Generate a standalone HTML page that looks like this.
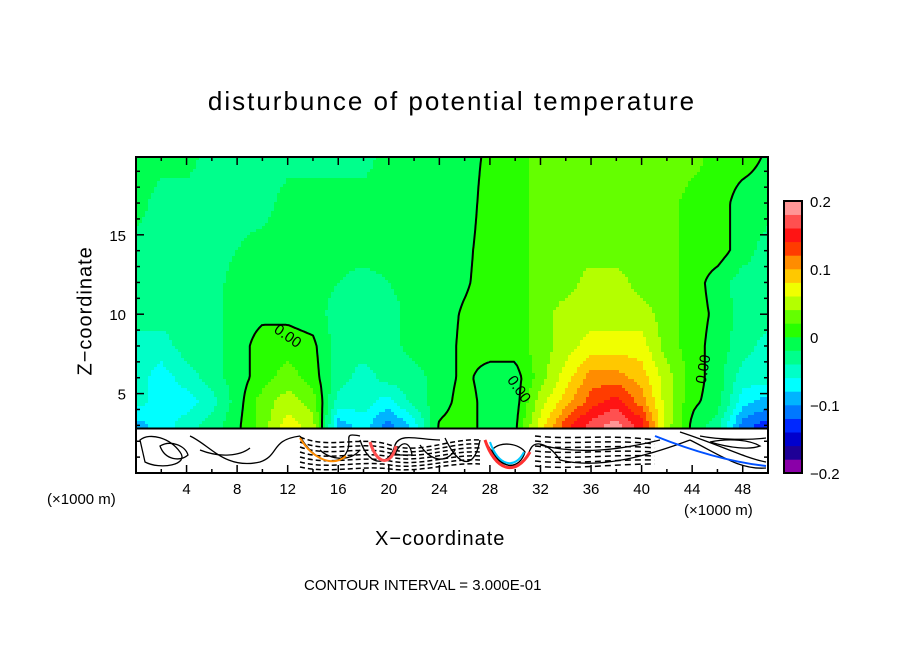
<!DOCTYPE html>
<html><head><meta charset="utf-8">
<style>
body{margin:0;background:#fff;width:904px;height:654px;overflow:hidden;position:relative;font-family:"Liberation Sans",sans-serif;}
.t{position:absolute;color:#000;white-space:nowrap;}
</style></head>
<body>
<div class="t" style="left:0;width:904px;text-align:center;top:86px;font-size:26px;letter-spacing:2px;">disturbunce of potential temperature</div>
<svg id="svg" width="904" height="654" style="position:absolute;left:0;top:0">
<g id="field" shape-rendering="crispEdges"></g>
<g id="ground"></g>
<g id="contours"></g>
<g id="axes"></g>
<g id="cbar"></g>
</svg>
<div class="t" style="left:47px;top:491px;font-size:15px;">(×1000 m)</div>
<div class="t" style="left:684px;top:502px;font-size:15px;">(×1000 m)</div>
<div class="t" style="left:375px;top:528px;font-size:20px;letter-spacing:1px;">X−coordinate</div>
<div class="t" style="left:24px;top:302px;font-size:20px;letter-spacing:1px;transform:rotate(-90deg);width:124px;text-align:center;">Z−coordinate</div>
<div class="t" style="left:304px;top:577px;font-size:15px;">CONTOUR INTERVAL = 3.000E-01</div>
<script>
const xCoords=[0,2,4,6,8,10,12,14,16,18,20,22,24,26,28,30,32,34,36,38,40,42,44,46,48,50];
const zCoords=[20,17,14,12,10,8,6,4.5,3];
const fieldRow20=[-1,-1,-1,-3,-3,-3,-3,-3,-3,-3,-1,-1,-1,-1,0.5,1,3,3,3,3,3,3,3,1,1,-0.3];
const fieldRow17=[-1,-3,-3,-3,-3,-3,-1,-1,-1,-1,-1,-1,-1,-1,1,1,3,3,3,3,3,3,1,1,-1,-1];
const fieldRow14=[-3,-3,-3,-3,-2,-1,-1,-1,-1,-1,-1,-1,-1,-0.5,1,1,3,3,3,3,3,3,1,1,-1,-3];
const fieldRow12=[-3,-3,-3,-3,-1,-1,-1,-1,-2,-3,-2,-1,-1,-0.3,1,1,3,3,5,5,3,3,1,-1,-3,-3];
const fieldRow10=[-3,-3,-3,-3,-1,-0.5,-0.5,-1,-3,-3,-3,-1,-1,0.3,1,1,3,5,5,5,5,3,1,-0.5,-3,-3];
const fieldRow8=[-5,-5,-3,-3,-1,1,1,0.5,-3,-3,-3,-1,-1,0.5,1,1,3,5,7,7,7,3,1,-1,-3,-5];
const fieldRow6=[-5,-7,-5,-3,-1,1,3,1,-3,-5,-3,-3,-1,0.5,-1,-1,3,7,11,11,9,5,1,-1,-5,-5];
const fieldRow45=[-5,-7,-7,-5,-1,3,5,3,-5,-5,-7,-3,-1,1,-1,-1,5,9,13,15,11,5,0.5,-1,-7,-9];
const fieldRow3=[-9,-7,-5,-3,-0.5,3,7,5,-9,-7,-11,-7,0.3,1,-1,-0.5,7,13,17,19,15,5,-0.5,-3,-11,-13];
const rows=[fieldRow20,fieldRow17,fieldRow14,fieldRow12,fieldRow10,fieldRow8,fieldRow6,fieldRow45,fieldRow3];
const levelColors=["#8a00a8","#1e0096","#0000cd","#0028ff","#0078ff","#00b4ff","#00ffff","#00ffc8","#00ff8c","#00ff50","#28ff00","#64ff00","#b4ff00","#f0ff00","#ffc800","#ff8c00","#ff3c00","#ff1414","#ff5050","#ff9696"];
const cbarLabels=["0.2","0.1","0","−0.1","−0.2"];
const cbarValues=[0.2,0.1,0,-0.1,-0.2];
const xTickLabels=["4","8","12","16","20","24","28","32","36","40","44","48"];
const xTickValues=[4,8,12,16,20,24,28,32,36,40,44,48];
const yTickLabels=["5","10","15"];
const yTickValues=[5,10,15];

const L=136,R=768,T=157,B=473,XMAX=50,ZMAX=19.9,GROUND=2.8;
const sx=x=>L+(x/XMAX)*(R-L);
const sz=z=>B-(z/ZMAX)*(B-T);
const NS="http://www.w3.org/2000/svg";
function mk(tag,attrs,parent){const e=document.createElementNS(NS,tag);for(const k in attrs)e.setAttribute(k,attrs[k]);parent.appendChild(e);return e;}
function val(x,z){
  let i=Math.min(xCoords.length-2,Math.max(0,Math.floor(x/2)));
  let fx=Math.max(0,Math.min(1,(x-xCoords[i])/(xCoords[i+1]-xCoords[i])));
  z=Math.max(3,Math.min(20,z));
  let j=0;while(j<zCoords.length-2&&z<zCoords[j+1])j++;
  let fz=(zCoords[j]-z)/(zCoords[j]-zCoords[j+1]);
  const a=rows[j][i]*(1-fx)+rows[j][i+1]*fx;
  const b=rows[j+1][i]*(1-fx)+rows[j+1][i+1]*fx;
  return (a*(1-fz)+b*fz)/100;
}
function colorFor(v){let k=Math.floor((v+0.2)/0.02+1e-9);k=Math.max(0,Math.min(19,k));return levelColors[k];}

const field=document.getElementById('field');
const step=3;
const gy=sz(GROUND);
for(let py=T;py<gy;py+=step){
  for(let px=L;px<R;px+=step){
    const x=(px+step/2-L)/(R-L)*XMAX, z=(B-(py+step/2))/(B-T)*ZMAX;
    const r=mk('rect',{x:px,y:py,width:step,height:Math.min(step,gy-py),fill:colorFor(val(x,z))},field);
    
    
  }
}
// ground region (decorative dense contours)
const g=document.getElementById('ground');
mk('rect',{x:L,y:gy,width:R-L,height:B-gy,fill:'#fff'},g);
const gp=["M140 440 C150 432,170 438,180 452 C190 465,160 470,145 462Z",
"M190 436 C210 445,225 470,260 462 C280 455,270 440,300 436",
"M160 446 C170 440,185 445,188 455 C180 462,165 460,160 446Z",
"M300 436 C310 455,330 470,345 455 C355 440,340 432,360 436",
"M360 440 C370 470,390 465,395 445 C400 432,420 440,440 440",
"M445 438 C460 470,475 468,480 440",
"M485 440 C500 470,520 475,530 450 C535 438,550 445,560 460 C600 470,650 455,690 440",
"M690 440 C720 455,740 470,766 468","M680 432 C720 445,745 458,766 462",
"M540 445 C580 455,620 450,660 440","M700 436 C720 440,750 440,766 438",
"M710 442 C730 448,750 450,760 446 C750 440,730 438,710 442Z",
"M200 450 C220 458,240 456,250 448","M320 450 C330 460,350 462,360 450",
"M492 450 C500 470,520 470,525 452 C520 444,500 440,492 450Z",
"M420 445 C430 460,445 465,455 450","M395 455 C400 440,410 440,412 455Z"];
gp.forEach(d=>{mk('path',{d:d,fill:'none',stroke:'#000','stroke-width':1.3},g);});
for(let k=0;k<7;k++){
  mk('path',{d:`M300 ${437+k*5} C330 ${450+k*4},360 ${435+k*5},390 ${445+k*4} C420 ${455+k*3},450 ${438+k*4},480 ${440+k*4}`,fill:'none',stroke:'#000','stroke-width':1.5,'stroke-dasharray':'5 3'},g);
  mk('path',{d:`M535 ${436+k*5} C570 ${440+k*5},610 ${434+k*5},655 ${440+k*4}`,fill:'none',stroke:'#000','stroke-width':1.5,'stroke-dasharray':'6 4'},g);
}
mk('path',{d:"M485 440 C495 470,515 478,530 452",fill:'none',stroke:'#ff3030','stroke-width':3},g);
mk('path',{d:"M490 442 C498 466,515 470,524 452",fill:'none',stroke:'#00c8ff','stroke-width':2},g);
mk('path',{d:"M370 442 C378 468,392 464,396 446",fill:'none',stroke:'#ff5050','stroke-width':3},g);
mk('path',{d:"M300 438 C312 458,332 468,346 456",fill:'none',stroke:'#ff8c00','stroke-width':2},g);
mk('path',{d:"M655 436 C690 450,730 462,766 466",fill:'none',stroke:'#0050ff','stroke-width':2},g);
mk('line',{x1:L,y1:gy,x2:R,y2:gy,stroke:'#000','stroke-width':2},g);

// zero contour by marching squares
const cg=document.getElementById('contours');
let d="";const cs=3;
for(let py=T;py+cs<=gy;py+=cs){
  for(let px=L;px+cs<=R;px+=cs){
    const X=p=>(p-L)/(R-L)*XMAX, Z=p=>(B-p)/(B-T)*ZMAX;
    const v0=val(X(px),Z(py)),v1=val(X(px+cs),Z(py)),v2=val(X(px+cs),Z(py+cs)),v3=val(X(px),Z(py+cs));
    const pts=[];
    const edge=(a,b,xa,ya,xb,yb)=>{if((a<0)!==(b<0)){const t=a/(a-b);pts.push([xa+(xb-xa)*t,ya+(yb-ya)*t]);}};
    edge(v0,v1,px,py,px+cs,py);edge(v1,v2,px+cs,py,px+cs,py+cs);
    edge(v2,v3,px+cs,py+cs,px,py+cs);edge(v3,v0,px,py+cs,px,py);
    for(let k=0;k+1<pts.length;k+=2)d+=`M${pts[k][0].toFixed(1)} ${pts[k][1].toFixed(1)}L${pts[k+1][0].toFixed(1)} ${pts[k+1][1].toFixed(1)}`;
  }
}
mk('path',{d:d,fill:'none',stroke:'#000','stroke-width':2,'stroke-linecap':'round'},cg);
[[285,340,35],[515,392,55],[708,370,-80]].forEach(p=>{
  const t=mk('text',{x:p[0],y:p[1],'font-size':15,'font-family':'Liberation Sans',transform:`rotate(${p[2]} ${p[0]} ${p[1]})`,'text-anchor':'middle'},cg);
  t.textContent="0.00";
});

// axes
const ax=document.getElementById('axes');
mk('rect',{x:L,y:T,width:R-L,height:B-T,fill:'none',stroke:'#000','stroke-width':2},ax);
for(let x=2;x<50;x+=2){const len=x%4===0?8:4;
  mk('line',{x1:sx(x),y1:B,x2:sx(x),y2:B-len,stroke:'#000','stroke-width':1.5},ax);
  mk('line',{x1:sx(x),y1:T,x2:sx(x),y2:T+len,stroke:'#000','stroke-width':1.5},ax);}
for(let z=1;z<20;z++){const len=z%5===0?8:4;
  mk('line',{x1:L,y1:sz(z),x2:L+len,y2:sz(z),stroke:'#000','stroke-width':1.5},ax);
  mk('line',{x1:R,y1:sz(z),x2:R-len,y2:sz(z),stroke:'#000','stroke-width':1.5},ax);}
xTickLabels.forEach((s,i)=>{const t=mk('text',{x:sx(xTickValues[i]),y:494,'font-size':15,'text-anchor':'middle','font-family':'Liberation Sans'},ax);t.textContent=s;
  });
yTickLabels.forEach((s,i)=>{const t=mk('text',{x:126,y:sz(yTickValues[i])+6,'font-size':15,'text-anchor':'end','font-family':'Liberation Sans'},ax);t.textContent=s;
  });

// colorbar
const cb=document.getElementById('cbar');
const cT=201,cB=473,cL=784,cW=18,ch=(cB-cT)/levelColors.length;
levelColors.forEach((c,i)=>{const r=mk('rect',{x:cL,y:cB-(i+1)*ch,width:cW,height:ch+0.3,fill:c},cb);
  });
mk('rect',{x:cL,y:cT,width:cW,height:cB-cT,fill:'none',stroke:'#000','stroke-width':2},cb);
cbarLabels.forEach((s,i)=>{const y=cB-(cbarValues[i]+0.2)/0.4*(cB-cT);
  const t=mk('text',{x:810,y:y+6,'font-size':15,'font-family':'Liberation Sans'},cb);t.textContent=s;
  });
</script>
</body></html>
